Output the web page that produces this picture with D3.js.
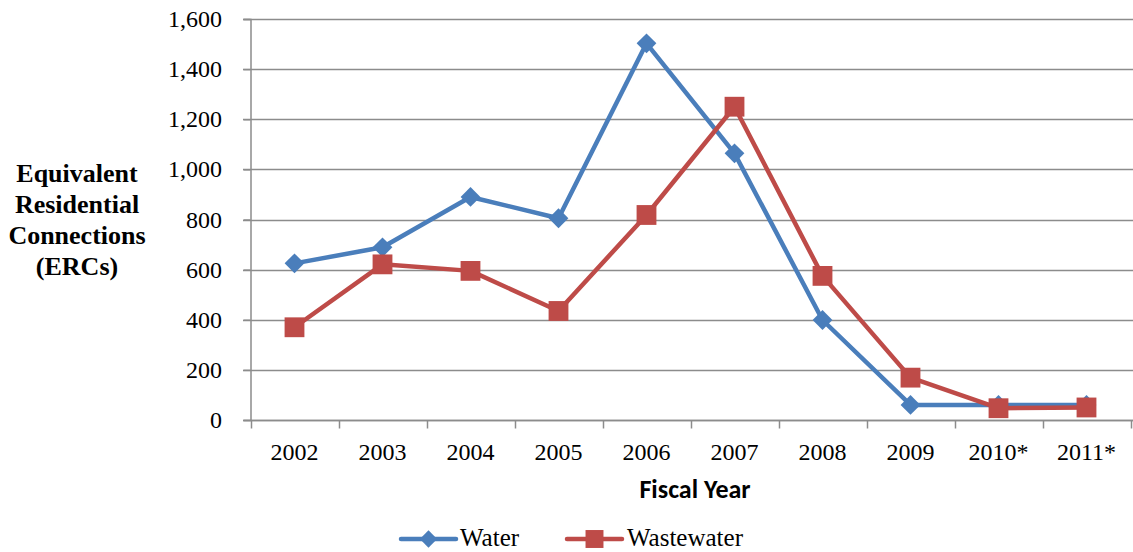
<!DOCTYPE html>
<html><head><meta charset="utf-8"><script src="https://cdn.jsdelivr.net/npm/d3@7"></script></head>
<body style="margin:0">
<svg id="chart" width="1133" height="552" style="font-family: 'Times New Roman', FreeSerif, 'Liberation Serif', Tinos, serif;"></svg>
<script>
// Fiscal years and ERC counts per utility
const years = ["2002", "2003", "2004", "2005", "2006", "2007", "2008", "2009", "2010*", "2011*"];
const water = [625, 689, 890, 805, 1503, 1064, 399, 60, 60, 60];
const wastewater = [370, 621, 595, 435, 818, 1250, 575, 169, 47, 50];
const yTicks = [0, 200, 400, 600, 800, 1000, 1200, 1400, 1600];
const titleLines = ["Equivalent", "Residential", "Connections", "(ERCs)"];

const series = [
  { name: "Water", values: water, color: "#4A7EBB", marker: "diamond" },
  { name: "Wastewater", values: wastewater, color: "#BE4B48", marker: "square" }
];

const SERIF = "'Times New Roman', FreeSerif, 'Liberation Serif', Tinos, serif";
const CALIBRI = "Carlito, 'Liberation Sans', sans-serif";

const svg = d3.select("#chart");
const gridColor = "#8C8C8C";

const x = d3.scaleBand().domain(years).range([250.5, 1130.5]);
const y = d3.scaleLinear().domain([0, 1600]).range([420, 19]);

// Helper for serif labels
const serifText = (sel, size, weight) => sel
  .attr("font-family", SERIF)
  .attr("font-size", size)
  .attr("font-weight", weight || "normal")
  .attr("fill", "#000");

// Horizontal gridlines
svg.append("g")
  .selectAll("line")
  .data(yTicks)
  .join("line")
  .attr("x1", 243).attr("x2", 1133)
  .attr("y1", d => Math.round(y(d)) + 0.5).attr("y2", d => Math.round(y(d)) + 0.5)
  .attr("stroke", gridColor).attr("stroke-width", 1.5);

// Y axis line and ticks
const yAxis = svg.append("g")
  .attr("transform", "translate(250.5,0)")
  .call(d3.axisLeft(y).tickValues(yTicks).tickSize(7).tickFormat(""));
yAxis.select(".domain").attr("stroke", gridColor).attr("stroke-width", 1.5);
yAxis.selectAll(".tick line").attr("stroke", gridColor).attr("stroke-width", 1.5);

// Y tick labels
svg.append("g").selectAll("text")
  .data(yTicks)
  .join("text")
  .attr("x", 222)
  .attr("y", d => y(d) + 8)
  .attr("text-anchor", "end")
  .text(d => d3.format(",")(d))
  .call(serifText, 24);

// X axis with ticks on band boundaries
const xAxis = svg.append("g")
  .attr("transform", "translate(0," + (Math.round(y(0)) + 0.5) + ")");
xAxis.append("line")
  .attr("x1", x.range()[0]).attr("x2", 1133)
  .attr("stroke", gridColor).attr("stroke-width", 1.5);
const boundaries = years.map(d => x(d)).concat([x.range()[1]]);
xAxis.selectAll("line.tick")
  .data(boundaries)
  .join("line")
  .attr("class", "tick")
  .attr("x1", d => Math.round(d) + 0.5).attr("x2", d => Math.round(d) + 0.5)
  .attr("y1", 0).attr("y2", 8)
  .attr("stroke", gridColor).attr("stroke-width", 1.5);
xAxis.selectAll("text")
  .data(years)
  .join("text")
  .attr("x", d => x(d) + x.bandwidth() / 2)
  .attr("y", 39)
  .attr("text-anchor", "middle")
  .text(d => d)
  .call(serifText, 24);

// Axis titles
svg.append("text")
  .attr("x", 695).attr("y", 498)
  .attr("text-anchor", "middle")
  .attr("font-family", CALIBRI)
  .attr("font-weight", "bold").attr("font-size", 26)
  .text("Fiscal Year");

svg.append("g").selectAll("text")
  .data(titleLines)
  .join("text")
  .attr("x", 77)
  .attr("y", (d, i) => 182 + i * 31)
  .attr("text-anchor", "middle")
  .text(d => d)
  .call(serifText, 26, "bold");

// Marker shapes
const markerPath = (type, size) => type === "diamond"
  ? d3.symbol().type(d3.symbolDiamond2).size(size)()
  : d3.symbol().type(d3.symbolSquare2).size(size)();

// Lines and markers
const line = d3.line()
  .x((d, i) => x(years[i]) + x.bandwidth() / 2)
  .y(d => y(d));

series.forEach(s => {
  const g = svg.append("g");
  g.append("path")
    .attr("d", line(s.values))
    .attr("fill", "none")
    .attr("stroke", s.color)
    .attr("stroke-width", 4.5)
    .attr("stroke-linejoin", "round");
  g.selectAll("path.marker")
    .data(s.values)
    .join("path")
    .attr("class", "marker")
    .attr("transform", (d, i) => "translate(" + (x(years[i]) + x.bandwidth() / 2) + "," + y(d) + ")")
    .attr("d", markerPath(s.marker, s.marker === "diamond" ? 250 : 500))
    .attr("fill", s.color);
});

// Legend
const legendItems = [
  { s: series[0], x0: 401, x1: 456, tx: 460 },
  { s: series[1], x0: 567, x1: 622, tx: 627 }
];
const lg = svg.append("g");
legendItems.forEach(it => {
  const ly = 539;
  lg.append("line")
    .attr("x1", it.x0).attr("x2", it.x1).attr("y1", ly).attr("y2", ly)
    .attr("stroke", it.s.color).attr("stroke-width", 4.5).attr("stroke-linecap", "round");
  lg.append("path")
    .attr("transform", "translate(" + ((it.x0 + it.x1) / 2) + "," + ly + ")")
    .attr("d", markerPath(it.s.marker, it.s.marker === "diamond" ? 190 : 410))
    .attr("fill", it.s.color);
  lg.append("text")
    .attr("x", it.tx).attr("y", 546)
    .text(it.s.name)
    .call(serifText, 25);
});
</script>
</body>
</html>
